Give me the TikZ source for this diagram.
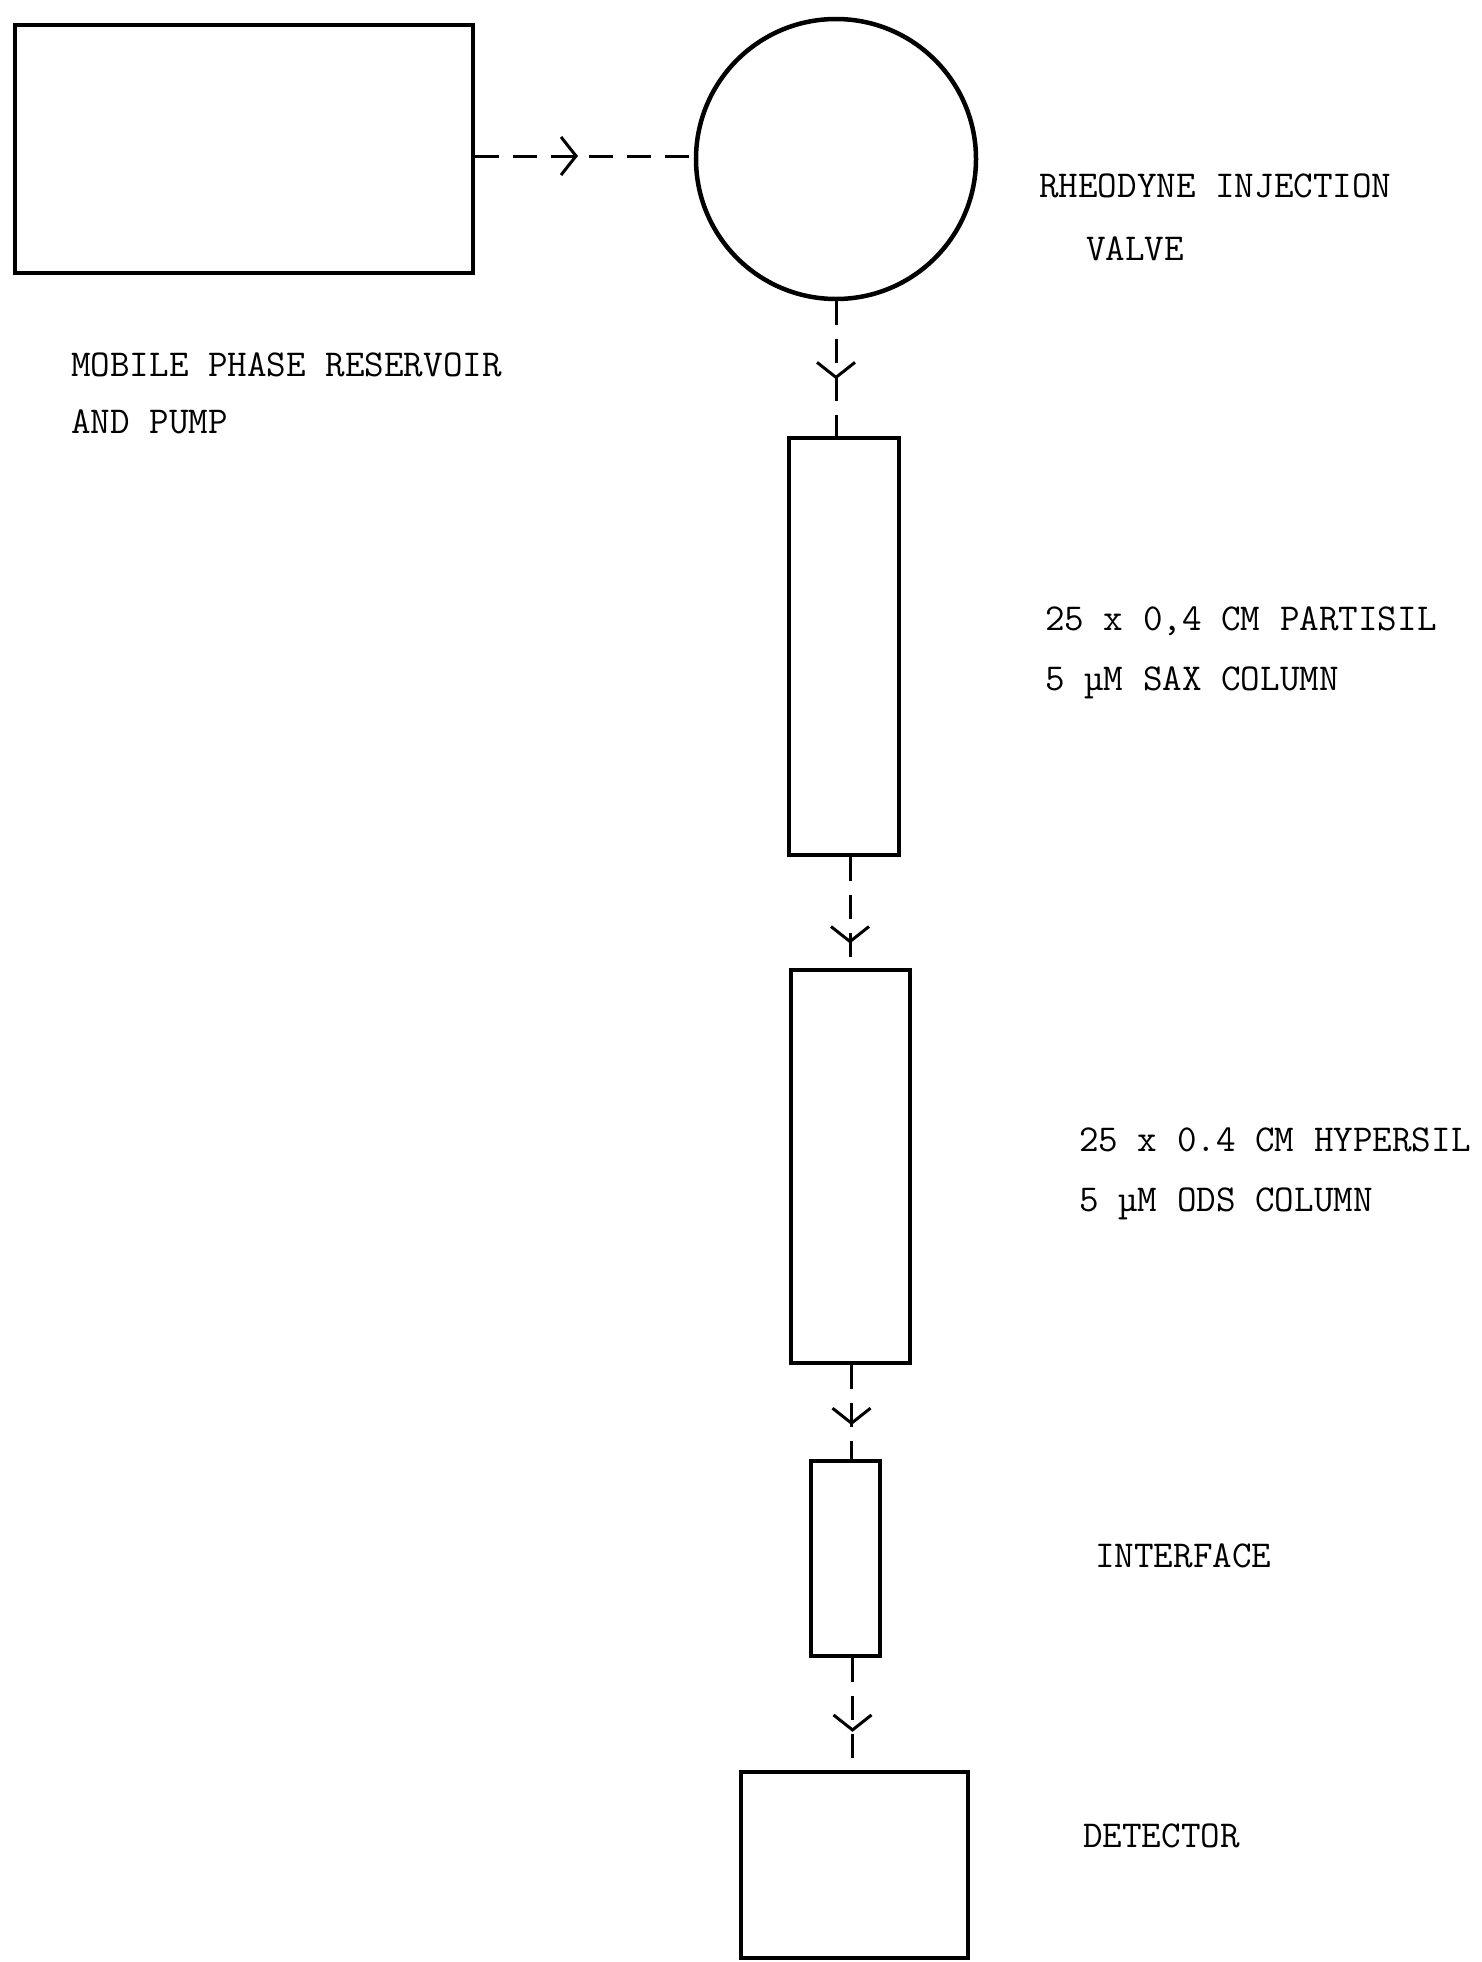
\documentclass[tikz,border=0pt]{standalone}
\usepackage{fontspec}
\usetikzlibrary{arrows.meta,decorations.markings,calc}
\begin{document}
\begin{tikzpicture}[x=1pt,y=-1pt,
  unit/.style={draw,line width=4.5pt,inner sep=0pt,rectangle},
  flow/.style={line width=3pt,dash pattern=on 24pt off 14pt},
  lbl/.style={anchor=base west,inner sep=0pt,font=\ttfamily\fontsize{38}{45}\selectfont\addfontfeatures{FakeBold=1.2}},
  midarrow/.style={postaction={decorate},decoration={markings,
    mark=at position #1 with {\arrow[line width=3pt]{Straight Barb[length=15pt,width=38pt]}}}}]
\useasboundingbox (0,0) rectangle (1482,1962);
\node[unit,minimum width=458pt,minimum height=248pt] (pump) at (244,149) {};
\node[draw,circle,line width=4.5pt,minimum size=280pt,inner sep=0pt] (valve) at (836,159) {};
\node[unit,minimum width=110pt,minimum height=417pt] (col1) at (844,646.5) {};
\node[unit,minimum width=119pt,minimum height=393pt] (col2) at (850.5,1166.5) {};
\node[unit,minimum width=69pt,minimum height=195pt] (iface) at (845.5,1558.5) {};
\node[unit,minimum width=227pt,minimum height=186pt] (det) at (854.5,1865) {};
\coordinate (hl) at (0,156);
\coordinate (a2) at ($(col1.south)+(6,0)$);
\coordinate (a3) at ($(col2.south)+(1,0)$);
\coordinate (a4) at ($(iface.south)+(7,0)$);

\draw[flow,midarrow=0.47] (pump.east |- hl) -- (valve.west |- hl);
\draw[flow,midarrow=0.58] (valve.south) -- (valve.south |- col1.north);
\draw[flow,midarrow=0.78] (a2) -- (a2 |- col2.north);
\draw[flow,midarrow=0.64] (a3) -- (a3 |- iface.north);
\draw[flow,midarrow=0.66] (a4) -- (a4 |- det.north);

\node[lbl] (t1) at (71,376) {MOBILE PHASE RESERVOIR};
\node[lbl] (t2) at (71,433) {AND PUMP};
\node[lbl] (t3) at (1039,197) {RHEODYNE INJECTION};
\node[lbl] (t4) at (1086,260) {VALVE};
\node[lbl] (t5) at (1045,630) {25 x 0,4 CM PARTISIL};
\node[lbl] (t6) at (1045,690) {5 µM SAX COLUMN};
\node[lbl] (t7) at (1079,1151) {25 x 0.4 CM HYPERSIL};
\node[lbl] (t8) at (1079,1211) {5 µM ODS COLUMN};
\node[lbl] (t9) at (1095,1567) {INTERFACE};
\node[lbl] (t10) at (1083,1847) {DETECTOR};
\end{tikzpicture}
\end{document}
